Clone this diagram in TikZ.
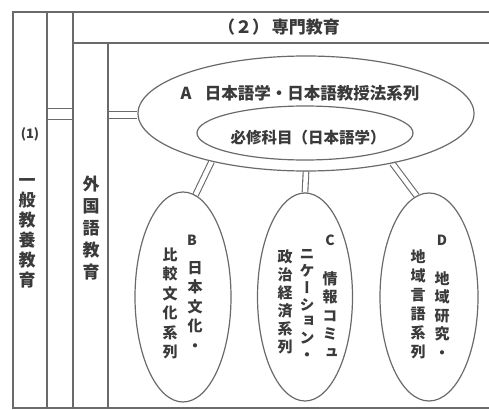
\documentclass[tikz,border=0pt]{standalone}
\usepackage{fontspec}
\setmainfont{Noto Sans CJK JP}
\newfontfamily\cjk{Noto Sans CJK JP}
\newfontfamily\cjkv[RawFeature=+vert]{Noto Sans CJK JP}
\usetikzlibrary{shapes.geometric}
\definecolor{ln}{HTML}{6A6A6A}
\definecolor{tx}{HTML}{3A3A3A}
\pgfdeclarelayer{bg}
\pgfsetlayers{bg,main}
\begin{document}
\begin{tikzpicture}[x=1pt,y=-1pt,
  frame/.style={draw=ln, line width=1.3pt},
  oval/.style={ellipse, draw=ln, line width=1.2pt, inner sep=0pt},
  dbl/.style={draw=ln, line width=1.1pt, double=white, double distance=4.5pt},
  htxt/.style={text=tx, inner sep=0pt},
  vtxt/.style={text=tx, inner sep=0pt, align=center},
]
\useasboundingbox (0,0) rectangle (489,409);

% ellipses
\node[oval, minimum width=336pt, minimum height=115pt] (A) at (306,113.5) {};
\node[oval, minimum width=216pt, minimum height=54pt] (A0) at (305,133) {};
\node[oval, minimum width=96pt, minimum height=210pt] (B) at (183,297) {};
\node[oval, minimum width=95pt, minimum height=208pt] (C) at (305,297) {};
\node[oval, minimum width=98pt, minimum height=208pt] (D) at (429,297) {};

% frame
\draw[frame] (489,12) -- (13,12) -- (13,408) -- (489,408);
\draw[frame] (47,12) -- (47,408);
\draw[frame] (73,12) -- (73,408);
\draw[frame] (73,43) -- (489,43);
\draw[frame] (108,43) -- (108,408);

% connectors
\coordinate (g1) at (47,114);
\coordinate (g2) at (73,114);
\coordinate (f1) at (108,115);
\begin{pgfonlayer}{bg}
\draw[dbl, double distance=10.5pt] (g1) -- (g2);
\draw[dbl, double distance=6pt] (f1) -- (f1 -| A.west);
\draw[dbl] (A.207) -- (B.83);
\draw[dbl] (A.south) -- (C.north);
\draw[dbl] (A.330) -- (D.97);
\end{pgfonlayer}

% texts
\node[htxt, font=\cjk\bfseries\fontsize{17}{20}\selectfont] (t2) at (279,27) {（２）\,専門教育};
\node[htxt, font=\cjk\bfseries\fontsize{16.5}{20}\selectfont] (tA) at (300,93) {A\hspace{0.8em}日本語学・日本語教授法系列};
\node[htxt, font=\cjk\bfseries\fontsize{15.5}{20}\selectfont] (tA0) at (308,138) {必修科目（日本語学）};

\node[htxt, font=\cjk\bfseries\fontsize{13}{15}\selectfont] (t1) at (30,134) {(1)};
\node[vtxt, font=\cjkv\bfseries\fontsize{17}{20}\selectfont] (tg) at (27,233) {一\\般\\教\\養\\教\\育};
\node[vtxt, font=\cjkv\bfseries\fontsize{17}{22}\selectfont] (tf) at (91,228) {外\\国\\語\\教\\育};

\node[htxt, font=\cjk\bfseries\fontsize{14}{16}\selectfont] (lB) at (192,240) {B};
\node[vtxt, font=\cjkv\bfseries\fontsize{15}{19.5}\selectfont] (tB1) at (195,306.5) {日\\本\\文\\化\\・};
\node[vtxt, font=\cjkv\bfseries\fontsize{15}{19.5}\selectfont] (tB2) at (170,303.5) {比\\較\\文\\化\\系\\列};

\node[htxt, font=\cjk\bfseries\fontsize{14}{16}\selectfont] (lC) at (330,240) {C};
\node[vtxt, font=\cjkv\bfseries\fontsize{15}{18.5}\selectfont] (tC1) at (330,315) {情\\報\\コ\\ミ\\ュ};
\node[vtxt, font=\cjkv\bfseries\fontsize{15}{16.7}\selectfont] (tC2) at (307,305) {ニ\\ケ\\ー\\シ\\ョ\\ン\\・};
\node[vtxt, font=\cjkv\bfseries\fontsize{15}{18}\selectfont] (tC3) at (285,302) {政\\治\\経\\済\\系\\列};

\node[htxt, font=\cjk\bfseries\fontsize{14}{16}\selectfont] (lD) at (442,240) {D};
\node[vtxt, font=\cjkv\bfseries\fontsize{15}{18.5}\selectfont] (tD1) at (442,315) {地\\域\\研\\究\\・};
\node[vtxt, font=\cjkv\bfseries\fontsize{15}{19}\selectfont] (tD2) at (418,304.5) {地\\域\\言\\語\\系\\列};
\end{tikzpicture}
\end{document}
